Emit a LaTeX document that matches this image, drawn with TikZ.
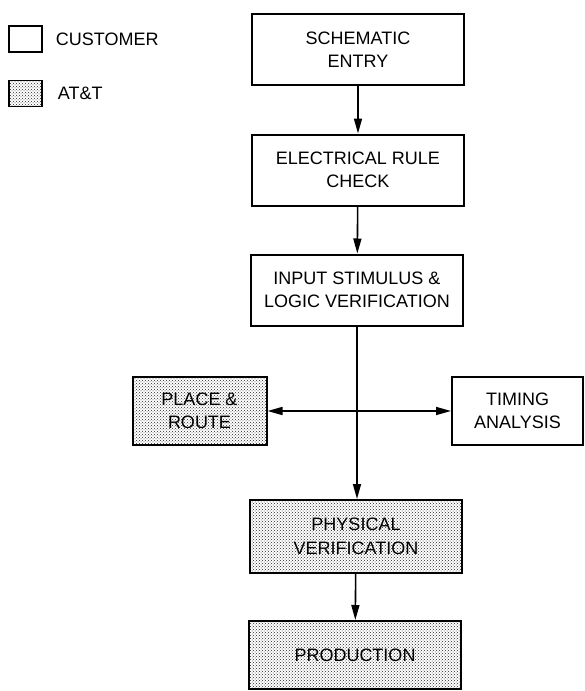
\documentclass[tikz,border=0pt]{standalone}
\usepackage{fontspec}
\setmainfont{Liberation Sans}
\usetikzlibrary{positioning,patterns,arrows.meta}

\begin{document}
\begin{tikzpicture}[x=1pt, y=-1pt, >={Triangle[length=15pt,width=8pt]},
  every node/.style={font=\fontsize{18}{23.5}\selectfont},
  stage/.style={draw, line width=2pt, minimum width=212pt, minimum height=71pt,
                align=center, inner sep=0pt},
  att/.style={pattern=crosshatch dots, pattern color=black!85},
  sidebox/.style={stage, minimum width=134pt, minimum height=68pt},
  keybox/.style={draw, line width=1.3pt, minimum width=33pt, minimum height=26pt, inner sep=0pt},
  keytext/.style={inner sep=0pt},
  flow/.style={->, line width=1.6pt}]

  \useasboundingbox (0,0) rectangle (584,691);

  %--- Legend
  \node[keybox] (custkey) at (25.5,39) {};
  \node[keytext, right=13pt of custkey] (custtext) {CUSTOMER};
  \node[keybox, att] (attkey) at (25.5,93.5) {};
  \node[keytext, right=15pt of attkey] (atttext) {AT\&T};

  %--- Main flow
  \node[stage] (schem) at (358,49.5) {SCHEMATIC\\ENTRY};
  \node[stage] (erc) at (358,170) {ELECTRICAL RULE\\CHECK};
  \node[stage] (islv) at (357,290) {INPUT STIMULUS \&\\LOGIC VERIFICATION};
  \node[stage, att, minimum height=73pt] (phys) at (356,536.5) {PHYSICAL\\VERIFICATION};
  \node[stage, att, minimum height=68pt] (prod) at (355,655) {PRODUCTION};

  %--- Side branches
  \node[sidebox, att] (place) at (199.5,411) {PLACE \&\\ROUTE};
  \node[sidebox, minimum width=131pt] (timing) at (517.5,411) {TIMING\\ANALYSIS};

  %--- Connectors
  \draw[flow] (schem) -- (erc);
  \draw[flow] (erc) -- (islv);
  \draw[flow] (islv.south) -- (phys.north -| islv.south);
  \draw[flow] (phys) -- (prod);
  \draw[flow, <->] (place) -- (timing);

\end{tikzpicture}
\end{document}
